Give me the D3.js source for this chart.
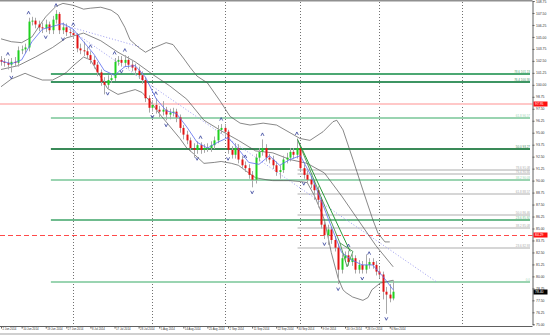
<!DOCTYPE html>
<html>
<head>
<meta charset="utf-8">
<script src="https://cdn.jsdelivr.net/npm/d3@7/dist/d3.min.js"></script>
<style>
  body { margin: 0; background: #fff; }
  svg { display: block; font-family: "Liberation Sans", Arial, sans-serif; }
</style>
</head>
<body>
<svg id="chart" width="550" height="335"></svg>
<script>
// daily bars, 2 Jun 2014 .. 7 Nov 2014 (bar index 0..114)
var opens = [102.6,102.4,102.3,102.1,102.4,102.3,103.6,103.7,103.9,106.6,106.7,106.3,106.0,105.9,106.3,105.7,106.8,107.4,105.7,106.0,105.5,105.4,105.2,103.8,103.6,103.5,103.1,102.6,102.1,101.3,100.3,100.0,100.5,100.7,102.4,102.6,102.3,102.6,102.1,101.8,101.5,101.0,100.5,98.6,97.6,97.9,97.4,97.2,97.4,96.9,97.1,97.2,96.6,95.5,94.8,94.2,93.4,93.2,93.7,93.2,93.4,93.4,93.7,94.2,95.3,95.5,95.1,93.2,92.7,93.4,92.2,91.6,91.3,90.6,90.1,92.4,93.0,93.4,92.4,92.2,91.6,90.9,91.1,92.2,92.4,93.0,92.7,93.4,91.3,90.6,90.1,89.6,89.0,88.0,85.4,84.3,84.9,83.8,83.0,80.7,81.9,82.2,81.5,81.9,80.7,81.2,80.7,81.2,81.5,81.2,80.5,80.2,78.4,78.1,77.7];
var highs = [103.0,102.8,102.7,102.8,102.9,104.0,104.1,104.3,107.0,107.1,107.0,106.7,106.5,106.8,106.6,107.2,107.8,107.6,106.5,106.4,105.9,105.8,105.4,104.3,104.5,103.9,103.5,103.0,102.4,101.6,100.8,101.0,101.2,102.8,103.0,103.0,103.1,103.0,102.6,102.2,101.9,101.4,100.8,98.9,98.4,98.6,97.8,98.3,97.7,97.5,97.6,97.5,96.9,95.8,95.2,94.5,93.9,94.1,94.0,93.8,93.9,94.1,94.6,95.8,95.9,95.9,95.3,93.6,93.9,93.8,92.6,92.0,91.7,91.0,92.8,93.4,94.3,93.8,92.8,92.6,92.0,91.6,92.6,92.9,93.4,93.4,94.4,93.6,91.7,91.0,90.5,90.0,89.4,88.3,85.8,85.4,85.2,84.2,83.4,82.3,82.6,82.7,82.3,82.2,81.7,81.6,82.3,81.9,81.9,81.6,81.0,80.5,78.9,79.2,79.6];
var lows = [102.0,101.9,101.6,101.3,101.9,101.9,103.2,103.3,103.5,106.2,105.9,105.6,105.4,105.5,105.3,105.3,106.4,105.3,105.3,105.1,105.0,104.8,103.4,103.2,103.0,102.7,102.2,101.7,100.9,99.9,99.0,99.6,100.2,100.4,102.0,101.9,101.9,101.7,101.4,101.0,100.6,100.1,98.2,97.1,97.2,97.0,96.6,96.8,96.3,96.4,96.7,96.1,95.0,94.3,93.8,93.0,92.4,92.8,92.8,92.9,93.0,93.0,93.3,93.9,94.9,94.6,92.8,92.3,92.3,91.8,91.2,90.9,90.2,89.3,89.7,92.0,92.6,92.0,91.8,91.2,90.5,90.2,90.8,91.8,92.0,92.3,92.3,90.9,90.2,89.7,89.2,88.0,87.2,85.0,83.9,83.3,83.4,82.6,79.2,80.3,81.5,81.1,81.1,80.3,80.3,80.3,80.3,80.8,80.8,80.1,79.8,77.6,76.1,77.3,77.5];
var closes = [102.4,102.3,102.1,102.4,102.3,103.6,103.7,103.9,106.6,106.7,106.3,106.0,105.9,106.3,105.7,106.8,107.4,105.7,106.0,105.5,105.4,105.2,103.8,103.6,103.5,103.1,102.6,102.1,101.3,100.3,100.0,100.5,100.7,102.4,102.6,102.3,102.6,102.1,101.8,101.5,101.0,100.5,98.6,97.6,97.9,97.4,97.2,97.4,96.9,97.1,97.2,96.6,95.5,94.8,94.2,93.4,93.2,93.7,93.2,93.4,93.4,93.7,94.2,95.3,95.5,95.1,93.2,92.7,93.4,92.2,91.6,91.3,90.6,90.1,92.4,93.0,93.4,92.4,92.2,91.6,90.9,91.1,92.2,92.4,93.0,92.7,93.4,91.3,90.6,90.1,89.6,89.0,88.0,85.4,84.3,84.9,83.8,83.0,80.7,81.9,82.2,81.5,81.9,80.7,81.2,80.7,81.2,81.5,81.2,80.5,80.2,78.4,78.1,77.7,78.4];

var dateLabels = ["2 Jun 2014","10 Jun 2014","19 Jun 2014","27 Jun 2014","8 Jul 2014","17 Jul 2014","28 Jul 2014","5 Aug 2014","14 Aug 2014","25 Aug 2014","2 Sep 2014","11 Sep 2014","22 Sep 2014","30 Sep 2014","9 Oct 2014","20 Oct 2014","28 Oct 2014","6 Nov 2014"];
var dateIdx = [0,6,13,19,26,33,40,46,53,60,66,73,80,86,93,100,106,113];
var monthIdx = [21,44,65,87,110,134];
var priceTicks = [108.75,107.5,106.25,105,103.75,102.5,101.25,100,98.75,97.5,96.25,95,93.75,92.5,91.25,90,88.75,87.5,86.25,85,83.75,82.5,81.25,80,78.75,77.5,76.25,75];

// moving average and bollinger bands, [bar index, price]
var maLine = [[0,102.5],[3,102.2],[6,102.6],[9,104.5],[12,105.8],[15,106.1],[18,106.4],[21,105.8],[24,104.5],[27,103.2],[30,101.5],[33,101.0],[36,101.9],[39,102.0],[42,100.8],[45,98.6],[48,97.3],[51,97.0],[54,95.6],[57,94.0],[60,93.4],[63,94.0],[66,94.5],[69,93.3],[72,91.9],[75,91.7],[78,92.6],[81,91.6],[84,92.2],[87,92.6],[90,90.6],[93,88.0],[96,85.2],[99,82.5],[102,81.7],[105,81.2],[108,81.2],[111,80.0],[114,78.6]];
var bbUpper = [[0,104.8],[3,104.5],[6,104.4],[9,105.0],[12,106.6],[13,107.1],[16,108.2],[18,108.5],[21,108.3],[24,107.9],[26,108.0],[29,108.1],[32,107.8],[34,107.3],[36,106.0],[37.5,104.7],[40,103.9],[42,103.4],[44,103.8],[48,104.4],[50,104.2],[53,102.8],[55,101.8],[57,100.9],[60,100.2],[63.7,98.3],[66.6,96.7],[69.5,96.0],[72.4,95.8],[76.2,96.0],[80.1,95.8],[84,95.0],[86.9,94.4],[89.8,94.2],[93.6,95.1],[96.5,96.15],[97.6,96.3],[99.4,95.3],[102.3,92.2],[105.2,89.0],[108.1,85.9],[109.6,84.5],[111.6,83.6],[113,83.6]];
var bbMiddle = [[0,101.6],[5,102.0],[10,102.9],[15,103.9],[19,104.9],[24,105.4],[29,104.6],[34,103.4],[39,102.4],[44,101.1],[49,99.9],[54,98.5],[59,96.3],[64,95.2],[69,94.2],[74,93.1],[79,92.9],[84,92.2],[89,91.8],[94,90.8],[99,88.4],[104,85.8],[109,83.2],[114,81.0]];
var bbLower = [[0,99.8],[3,100.6],[7,101.2],[9,100.9],[12,100.5],[15,100.5],[17.7,101.0],[19,101.3],[21,102.0],[24,102.9],[26,102.6],[29,100.8],[31,99.6],[34,99.0],[37,99.3],[39,99.5],[41,99.2],[44,98.0],[46,97.0],[49,95.7],[52,94.4],[54,93.4],[56,92.8],[59,91.8],[62,91.9],[64,92.0],[67,91.8],[69,91.6],[72,90.8],[74,90.3],[77,90.1],[79,90.0],[82,90.0],[84,90.0],[87,89.9],[89,89.8],[91,88.5],[93,86.8],[94,85.9],[96,82.5],[98,79.8],[99.4,78.6],[100.3,78.3],[102.2,77.85],[105.2,77.5],[106.7,77.8],[107.8,78.6],[110.2,79.3],[114,79.6]];

// fibonacci levels
var fibGreenLevels = ["78.6","76.4","61.8","50.0","38.2","23.6","0.0"];
var fibGreenPrices = [101.13,100.30,96.57,93.27,90.03,85.92,79.37];
var fibGrayLevels = ["78.6","76.4","61.8","50.0","38.2","23.6"];
var fibGrayPrices = [91.08,90.66,88.57,86.46,85.08,82.93];
var fibGreenStart = 14.5, fibGrayStart = 86.2;
var redLevel = 97.95, redDashLevel = 84.29;
var trendDotted = [[17.7,106.35],[126.7,79.4]];
var trendDotted2 = [[18,106.25],[40.4,103.96]];
var trendGreen = [[86.2,94.3],[101.5,82.6]];
var zigzagGreen = [[86.5,94.0],[98.5,83.5],[100.6,81.0],[102.3,82.6],[98.5,83.5]];
var fractalUp = [2,8,16,21,26,33,36,45,58,64,71,76,86,101,107];
var fractalDown = [3,13,18,31,35,44,48,57,66,73,88,94,98,105,112];

var svg = d3.select("#chart"),
    width = +svg.attr("width"),
    height = +svg.attr("height");
var plotRight = 532.5, plotBottom = 326.5;

var x = d3.scaleLinear().domain([0, 114]).range([1, 393.2]);
var y = d3.scaleLinear().domain([75, 108.75]).range([324.3, 1]);
var yr = function(p){ return Math.round(y(p)); };

svg.append("rect").attr("width", width).attr("height", height).attr("fill", "#fff");

// month separators
svg.append("g").selectAll("line").data(monthIdx).enter().append("line")
    .attr("x1", function(d){ return Math.round(x(d)) + 0.5; })
    .attr("x2", function(d){ return Math.round(x(d)) + 0.5; })
    .attr("y1", 2).attr("y2", plotBottom)
    .attr("stroke", "#707070").attr("stroke-dasharray", "1,2");

// horizontal levels
svg.append("line").attr("x1", 0).attr("x2", plotRight)
    .attr("y1", yr(redLevel)).attr("y2", yr(redLevel))
    .attr("stroke", "#ffc8c8").attr("stroke-width", 2);
svg.append("line").attr("x1", 0).attr("x2", plotRight)
    .attr("y1", yr(redDashLevel) + 0.5).attr("y2", yr(redDashLevel) + 0.5)
    .attr("stroke", "#ff4a4a").attr("stroke-dasharray", "5,3");

var gray = svg.append("g");
gray.selectAll("line").data(fibGrayPrices).enter().append("line")
    .attr("x1", x(fibGrayStart)).attr("x2", 530)
    .attr("y1", function(d){ return yr(d); }).attr("y2", function(d){ return yr(d); })
    .attr("stroke", "#d6d6d6").attr("stroke-width", 2);
gray.selectAll("text").data(fibGrayPrices).enter().append("text")
    .attr("x", 530).attr("y", function(d){ return yr(d) - 1.5; })
    .attr("text-anchor", "end").attr("font-size", 3).attr("fill", "#aaa")
    .text(function(d, i){ return fibGrayLevels[i] + " " + d.toFixed(2); });

var greenCols = ["#4ca873","#3d9563","#9ad4b1","#3a8a58","#9ad4b1","#6fbb8e","#9ad4b1"];
var green = svg.append("g");
green.selectAll("line").data(fibGreenPrices).enter().append("line")
    .attr("x1", x(fibGreenStart)).attr("x2", 530)
    .attr("y1", function(d){ return yr(d); }).attr("y2", function(d){ return yr(d); })
    .attr("stroke", function(d, i){ return greenCols[i]; }).attr("stroke-width", 2);
green.selectAll("text").data(fibGreenPrices).enter().append("text")
    .attr("x", 530).attr("y", function(d){ return yr(d) - 1.5; })
    .attr("text-anchor", "end").attr("font-size", 3)
    .attr("fill", function(d, i){ return greenCols[i]; })
    .text(function(d, i){ return i == 6 ? "0.0" : fibGreenLevels[i] + " " + d.toFixed(2); });

// trend lines
var line = d3.line().x(function(d){ return x(d[0]); }).y(function(d){ return y(d[1]); });
[trendDotted, trendDotted2].forEach(function(t){
    svg.append("path").attr("d", line(t)).attr("fill", "none")
        .attr("stroke", "#9c9cf0").attr("stroke-dasharray", "1,2");
});

// bands
[bbUpper, bbMiddle, bbLower].forEach(function(b){
    svg.append("path").attr("d", line(b)).attr("fill", "none")
        .attr("stroke", "#555").attr("stroke-width", 0.7);
});

// candles
var bars = d3.range(closes.length);
var candle = svg.append("g").selectAll("g").data(bars).enter().append("g");
candle.append("line")
    .attr("x1", function(i){ return Math.round(x(i)) + 0.5; })
    .attr("x2", function(i){ return Math.round(x(i)) + 0.5; })
    .attr("y1", function(i){ return y(highs[i]); })
    .attr("y2", function(i){ return y(lows[i]); })
    .attr("stroke", "#a8a8a8");
candle.append("rect")
    .attr("x", function(i){ return Math.round(x(i)) - 0.5; })
    .attr("width", 2)
    .attr("y", function(i){ return y(Math.max(opens[i], closes[i])); })
    .attr("height", function(i){ return Math.max(1, Math.abs(y(opens[i]) - y(closes[i]))); })
    .attr("fill", function(i){ return closes[i] >= opens[i] ? "#1fd21f" : "#e41414"; });

svg.append("path").attr("d", line(maLine)).attr("fill", "none")
    .attr("stroke", "#5a6cf0").attr("stroke-width", 0.8);
svg.append("path").attr("d", line(trendGreen)).attr("fill", "none")
    .attr("stroke", "#2a9a3a").attr("stroke-width", 1);
svg.append("path").attr("d", line(zigzagGreen)).attr("fill", "none")
    .attr("stroke", "#2f8a3a").attr("stroke-width", 0.8);

// fractal arrows
var frac = svg.append("g").attr("fill", "none").attr("stroke", "#34409a").attr("stroke-width", 0.8);
frac.selectAll(".up").data(fractalUp).enter().append("path")
    .attr("d", function(i){ var cx = x(i), cy = y(highs[i]) - 5;
        return "M" + (cx - 1.5) + "," + (cy + 1.5) + "L" + cx + "," + (cy - 1.5) + "L" + (cx + 1.5) + "," + (cy + 1.5); });
frac.selectAll(".dn").data(fractalDown).enter().append("path")
    .attr("d", function(i){ var cx = x(i), cy = y(lows[i]) + 5;
        return "M" + (cx - 1.5) + "," + (cy - 1.5) + "L" + cx + "," + (cy + 1.5) + "L" + (cx + 1.5) + "," + (cy - 1.5); });

// frame
svg.append("line").attr("x1", 0).attr("x2", plotRight).attr("y1", 0.5).attr("y2", 0.5)
    .attr("stroke", "#909090").attr("stroke-width", 2);

// price axis
var yAxis = svg.append("g").attr("transform", "translate(" + plotRight + ",0)")
    .call(d3.axisRight(y).tickValues(priceTicks).tickSize(2).tickFormat(d3.format(".2f")));
yAxis.select(".domain").attr("stroke", "#606060");
yAxis.selectAll("line").attr("stroke", "#606060");
yAxis.selectAll("text").attr("font-size", 3.4).attr("fill", "#333").attr("x", 3.5)
    .attr("font-family", "Liberation Sans");

function priceBox(p, bg, txt) {
    svg.append("rect").attr("x", plotRight + 1).attr("y", yr(p) - 2.5).attr("width", 14).attr("height", 5).attr("fill", bg);
    svg.append("text").attr("x", plotRight + 2.5).attr("y", yr(p) + 1.3).attr("font-size", 3.4)
        .attr("fill", "#fff").text(txt);
}
priceBox(redLevel, "#ff1010", redLevel.toFixed(2));
priceBox(redDashLevel, "#ff1010", redDashLevel.toFixed(2));
priceBox(closes[closes.length - 1], "#000", closes[closes.length - 1].toFixed(2));

// date axis
var xAxis = svg.append("g").attr("transform", "translate(0," + plotBottom + ")")
    .call(d3.axisBottom(x).tickValues(dateIdx).tickSize(2)
        .tickFormat(function(d, i){ return dateLabels[i]; }));
xAxis.select(".domain").attr("stroke", "#606060").attr("d", "M0,0H" + plotRight);
xAxis.selectAll("line").attr("stroke", "#606060");
xAxis.selectAll("text").attr("font-size", 2.8).attr("fill", "#333")
    .attr("text-anchor", "start").attr("dx", 1).attr("y", 2).attr("dy", "0.71em")
    .attr("font-family", "Liberation Sans");
svg.append("rect").attr("x", 0).attr("y", 333).attr("width", width).attr("height", 2).attr("fill", "#d0d0d0");
</script>
</body>
</html>
